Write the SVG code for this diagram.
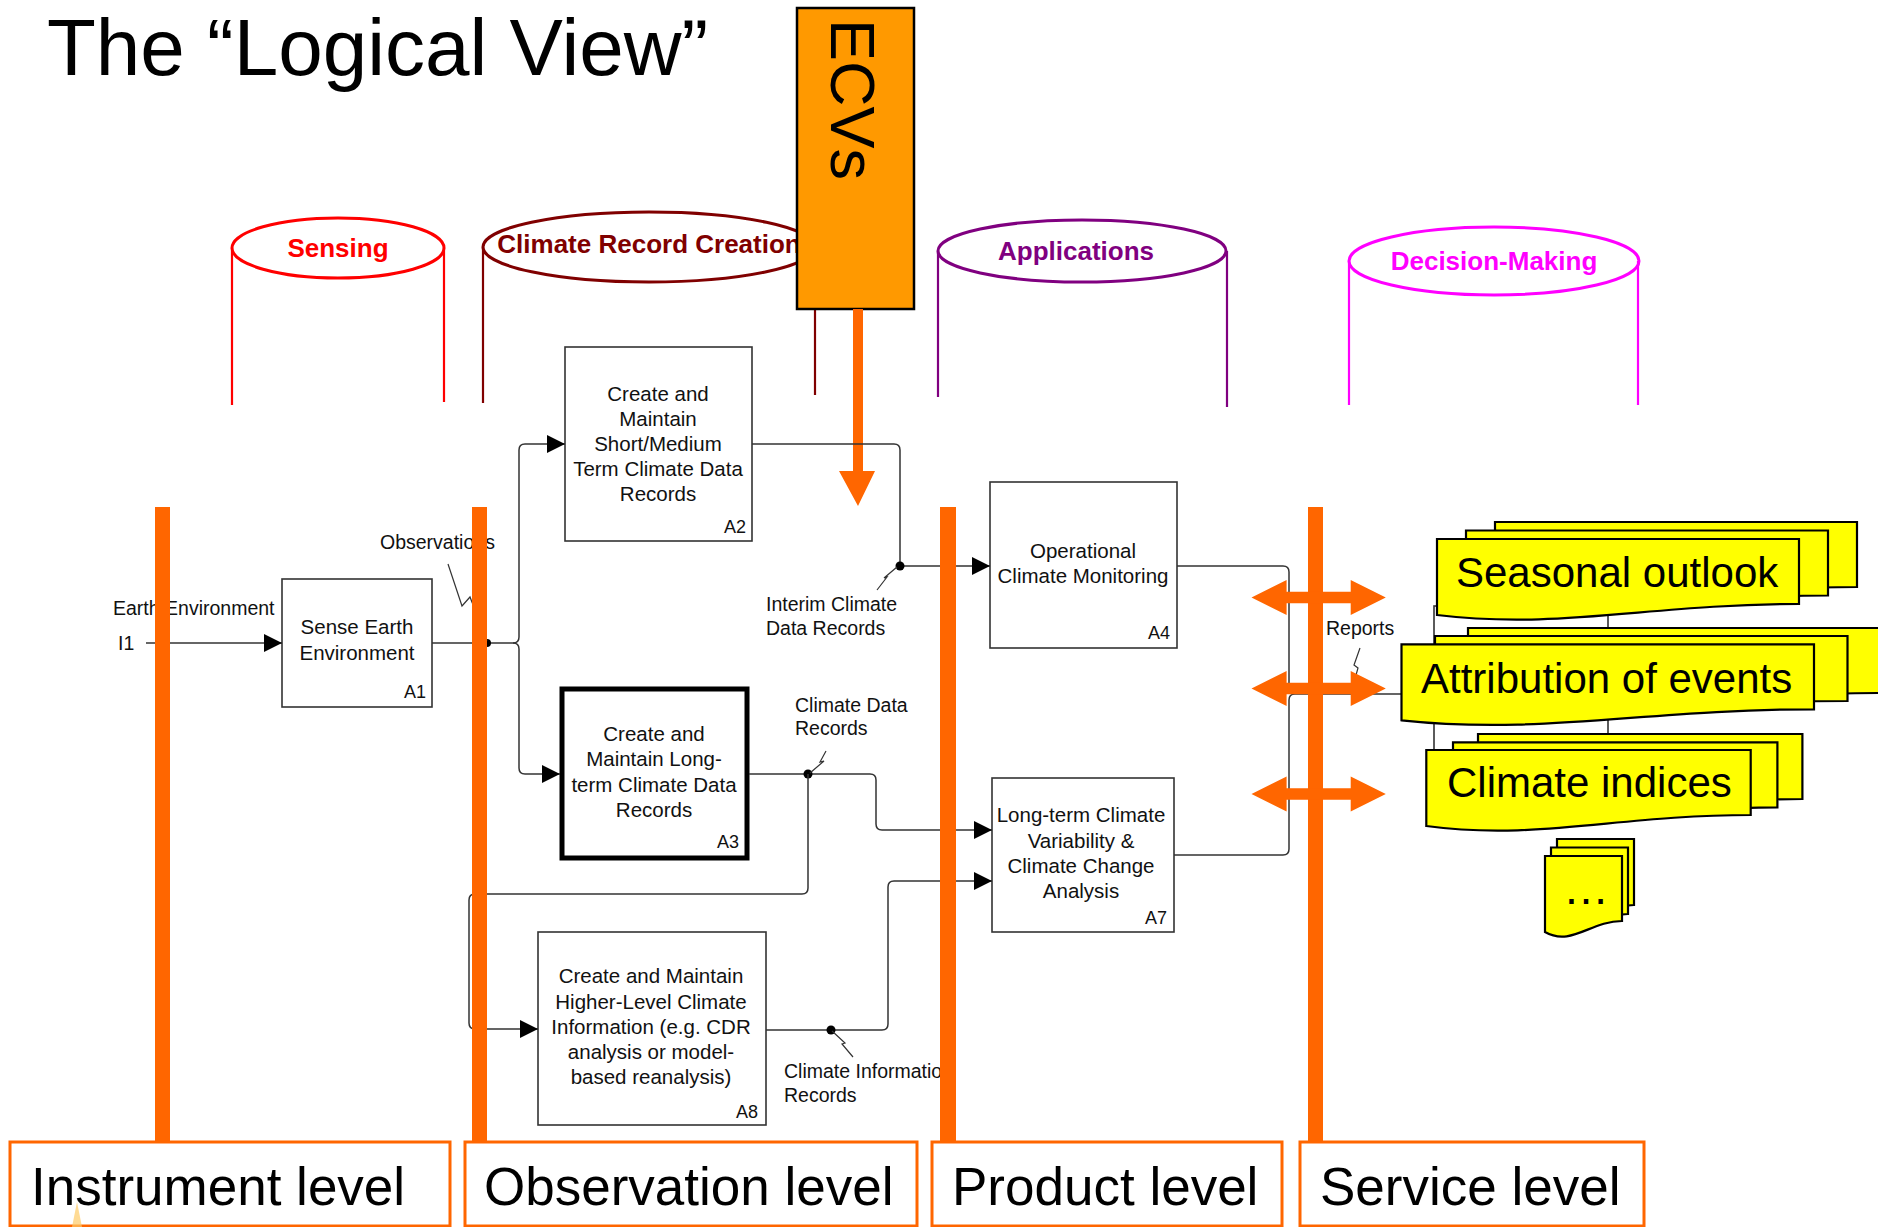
<svg xmlns="http://www.w3.org/2000/svg" xmlns:xlink="http://www.w3.org/1999/xlink" width="1878" height="1227" viewBox="0 0 1878 1227">
<style>
  text { font-family: "Liberation Sans", Arial, sans-serif; fill: #000; }
  .title { font-size: 80px; }
  .cyl { fill: none; stroke-width: 3; }
  .wall { fill: none; stroke-width: 2.2; }
  .cylt { font-weight: bold; font-size: 26px; text-anchor: middle; }
  .box { fill: #fff; stroke: #333; stroke-width: 1.6; }
  .bt { font-size: 20.5px; text-anchor: middle; fill: #111; }
  .code { font-size: 18px; text-anchor: end; fill: #111; }
  .conn { fill: none; stroke: #333; stroke-width: 1.5; }
  .sq { fill: none; stroke: #333; stroke-width: 1.2; }
  .lbl { font-size: 19.5px; fill: #111; }
  .bar { fill: #FF6600; }
  .lvl { fill: #fff; stroke: #FF6600; stroke-width: 3; }
  .lvlt { font-size: 53px; }
  .doc { fill: #FFFF00; stroke: #000; stroke-width: 2.2; }
  .doct { font-size: 42px; }
</style>
<defs>
  <marker id="ah" viewBox="0 0 18 18" markerWidth="18" markerHeight="18" refX="18" refY="9" orient="auto" markerUnits="userSpaceOnUse">
    <path d="M0,0 L18,9 L0,18 Z" fill="#000"/>
  </marker>
  <polygon id="dbl" points="1251.5,0 1286.6,-17.5 1286.6,-5.8 1350.7,-5.8 1350.7,-17.5 1385.8,0 1350.7,17.5 1350.7,5.8 1286.6,5.8 1286.6,17.5" fill="#FF6600"/>
</defs>
<rect width="1878" height="1227" fill="#fff"/>

<g id="title">
  <text class="title" x="47" y="75">The “Logical View”</text>
</g>

<g id="cyl-sensing">
  <ellipse class="cyl" cx="338" cy="248" rx="106" ry="30" stroke="#FF0000"/>
  <path class="wall" d="M232,248 V405 M444,248 V402" stroke="#FF0000"/>
  <text class="cylt" x="338" y="257" style="fill:#FF0000">Sensing</text>
</g>
<g id="cyl-climate-record-creation">
  <ellipse class="cyl" cx="649" cy="247" rx="166" ry="35" stroke="#800000"/>
  <path class="wall" d="M483,247 V403 M815,247 V395" stroke="#800000"/>
  <text class="cylt" x="649" y="253" style="fill:#800000">Climate Record Creation</text>
</g>
<g id="cyl-applications">
  <ellipse class="cyl" cx="1082" cy="251" rx="144" ry="31" stroke="#800080"/>
  <path class="wall" d="M938,251 V397 M1227,251 V407" stroke="#800080"/>
  <text class="cylt" x="1076" y="260" style="fill:#800080">Applications</text>
</g>
<g id="cyl-decision-making">
  <ellipse class="cyl" cx="1494" cy="261" rx="145" ry="34" stroke="#FF00FF"/>
  <path class="wall" d="M1349,261 V405 M1638,261 V405" stroke="#FF00FF"/>
  <text class="cylt" x="1494" y="270" style="fill:#FF00FF">Decision-Making</text>
</g>

<g id="ecvs">
  <rect x="797" y="8" width="117" height="301" fill="#FF9900" stroke="#000" stroke-width="2.5"/>
  <text x="0" y="0" font-size="63" transform="translate(831,19) rotate(90)">ECVs</text>
  <path d="M853,309 H863 V471 H875 L858,506 L839,471 H853 Z" fill="#FF6600"/>
</g>

<g id="A1">
  <rect class="box" x="282" y="579" width="150" height="128"/>
  <text class="bt" x="357" y="634">Sense Earth</text>
  <text class="bt" x="357" y="660">Environment</text>
  <text class="code" x="426" y="698">A1</text>
</g>
<g id="A2">
  <rect class="box" x="565" y="347" width="187" height="194"/>
  <text class="bt" x="658" y="401">Create and</text>
  <text class="bt" x="658" y="426">Maintain</text>
  <text class="bt" x="658" y="451">Short/Medium</text>
  <text class="bt" x="658" y="476">Term Climate Data</text>
  <text class="bt" x="658" y="501">Records</text>
  <text class="code" x="746" y="533">A2</text>
</g>
<g id="A3">
  <rect x="562" y="689" width="185" height="169" fill="#fff" stroke="#000" stroke-width="5"/>
  <text class="bt" x="654" y="741">Create and</text>
  <text class="bt" x="654" y="766">Maintain Long-</text>
  <text class="bt" x="654" y="792">term Climate Data</text>
  <text class="bt" x="654" y="817">Records</text>
  <text class="code" x="739" y="848">A3</text>
</g>
<g id="A4">
  <rect class="box" x="990" y="482" width="187" height="166"/>
  <text class="bt" x="1083" y="558">Operational</text>
  <text class="bt" x="1083" y="583">Climate Monitoring</text>
  <text class="code" x="1170" y="639">A4</text>
</g>
<g id="A7">
  <rect class="box" x="992" y="778" width="182" height="154"/>
  <text class="bt" x="1081" y="822">Long-term Climate</text>
  <text class="bt" x="1081" y="848">Variability &amp;</text>
  <text class="bt" x="1081" y="873">Climate Change</text>
  <text class="bt" x="1081" y="898">Analysis</text>
  <text class="code" x="1167" y="924">A7</text>
</g>
<g id="A8">
  <rect class="box" x="538" y="932" width="228" height="193"/>
  <text class="bt" x="651" y="983">Create and Maintain</text>
  <text class="bt" x="651" y="1009">Higher-Level Climate</text>
  <text class="bt" x="651" y="1034">Information (e.g. CDR</text>
  <text class="bt" x="651" y="1059">analysis or model-</text>
  <text class="bt" x="651" y="1084">based reanalysis)</text>
  <text class="code" x="758" y="1118">A8</text>
</g>
<g id="hidden-box">
  <rect class="box" x="1434" y="606" width="174" height="190"/>
</g>

<g id="connectors">
  <path class="conn" d="M146,643 H282" marker-end="url(#ah)"/>
  <path class="conn" d="M432,643 H513 Q519,643 519,637 V450 Q519,444 525,444 H565" marker-end="url(#ah)"/>
  <path class="conn" d="M513,643 Q519,643 519,649 V768 Q519,774 525,774 H560" marker-end="url(#ah)"/>
  <circle cx="487" cy="643" r="4" fill="#000"/>
  <path class="conn" d="M752,444 H894 Q900,444 900,450 V566 H990" marker-end="url(#ah)"/>
  <circle cx="900" cy="566" r="4.5" fill="#000"/>
  <path class="conn" d="M749,774 H870 Q876,774 876,780 V824 Q876,830 882,830 H992" marker-end="url(#ah)"/>
  <circle cx="808" cy="774" r="4.5" fill="#000"/>
  <path class="conn" d="M808,774 V888 Q808,894 802,894 H475 Q469,894 469,900 V1023 Q469,1029 475,1029 H538" marker-end="url(#ah)"/>
  <path class="conn" d="M766,1030 H882 Q888,1030 888,1024 V887 Q888,881 894,881 H992" marker-end="url(#ah)"/>
  <circle cx="831" cy="1030" r="4.5" fill="#000"/>
  <path class="conn" d="M1177,566 H1283 Q1289,566 1289,572 V694"/>
  <path class="conn" d="M1174,855 H1283 Q1289,855 1289,849 V700 Q1289,694 1295,694 H1434"/>
  <path class="sq" d="M448,564 L462,606 L470,597 L487,641"/>
  <path class="sq" d="M877,590 L887,577 L884,578 L897,567"/>
  <path class="sq" d="M826,751 L820,762 L824,761 L810,773"/>
  <path class="sq" d="M832,1031 L845,1043 L842,1044 L853,1057"/>
  <path class="sq" d="M1360,648 L1354,665 L1358,668 L1351,693"/>
  <text class="lbl" x="113" y="615">Earth Environment</text>
  <text class="lbl" x="118" y="650">I1</text>
  <text class="lbl" x="380" y="549">Observations</text>
  <text class="lbl" x="766" y="611">Interim Climate</text>
  <text class="lbl" x="766" y="635">Data Records</text>
  <text class="lbl" x="795" y="712">Climate Data</text>
  <text class="lbl" x="795" y="735">Records</text>
  <text class="lbl" x="784" y="1078">Climate Information</text>
  <text class="lbl" x="784" y="1102">Records</text>
  <text class="lbl" x="1326" y="635">Reports</text>
</g>

<g id="level-bars">
  <rect class="bar" x="155" y="507" width="15" height="636"/>
  <rect class="bar" x="472" y="507" width="15" height="636"/>
  <rect class="bar" x="940" y="507" width="16" height="636"/>
  <rect class="bar" x="1308" y="507" width="15" height="636"/>
</g>

<g id="service-arrows">
  <use href="#dbl" xlink:href="#dbl" transform="translate(0,597.5)"/>
  <use href="#dbl" xlink:href="#dbl" transform="translate(0,688.5)"/>
  <use href="#dbl" xlink:href="#dbl" transform="translate(0,794)"/>
</g>

<g id="seasonal-outlook">
  <path class="doc" d="M1495,522 H1857 V587 C1708.6,587 1618.1,613 1495,598 Z"/>
  <path class="doc" d="M1466,530.5 H1828 V595.5 C1679.6,595.5 1589.1,621.5 1466,606.5 Z"/>
  <path class="doc" d="M1437,539 H1799 V604 C1650.6,604 1560.1,630 1437,615 Z"/>
  <text class="doct" x="1456" y="587">Seasonal outlook</text>
</g>
<g id="attribution-of-events">
  <path class="doc" d="M1468,628 H1880.5 V693 C1711.4,693 1608.3,719 1468,704 Z"/>
  <path class="doc" d="M1435,636 H1847.5 V701 C1678.4,701 1575.3,727 1435,712 Z"/>
  <path class="doc" d="M1401.5,644.3 H1814 V709.3 C1644.9,709.3 1541.8,735.3 1401.5,720.3 Z"/>
  <text class="doct" x="1421" y="693">Attribution of events</text>
</g>
<g id="climate-indices">
  <path class="doc" d="M1478,734 H1802.4 V799 C1669.4,799 1588.3,825 1478,810 Z"/>
  <path class="doc" d="M1453,742.3 H1777.4 V807.3 C1644.4,807.3 1563.3,833.3 1453,818.3 Z"/>
  <path class="doc" d="M1426.3,750 H1750.7 V815 C1617.7,815 1536.6,841 1426.3,826 Z"/>
  <text class="doct" x="1447" y="797">Climate indices</text>
</g>
<g id="more">
  <path class="doc" d="M1557,839 H1634 V905 C1602.4,905 1583.2,931 1557,916 Z"/>
  <path class="doc" d="M1551,847.5 H1628 V914 C1596.4,914 1577.2,940 1551,925 Z"/>
  <path class="doc" d="M1545,856 H1622 V921 C1590.4,921 1571.2,947 1545,932 Z"/>
  <text x="1586" y="904" font-size="46" text-anchor="middle">…</text>
</g>

<g id="levels">
  <g id="instrument-level">
    <rect class="lvl" x="10" y="1142" width="440" height="84"/>
    <path d="M72,1227 L77,1202 L82,1227 Z" fill="#FFCC66" opacity="0.7"/>
    <text class="lvlt" x="31" y="1205">Instrument level</text>
  </g>
  <g id="observation-level">
    <rect class="lvl" x="465" y="1142" width="452" height="84"/>
    <text class="lvlt" x="484" y="1205">Observation level</text>
  </g>
  <g id="product-level">
    <rect class="lvl" x="932" y="1142" width="350" height="84"/>
    <text class="lvlt" x="952" y="1205">Product level</text>
  </g>
  <g id="service-level">
    <rect class="lvl" x="1300" y="1142" width="344" height="84"/>
    <text class="lvlt" x="1320" y="1205">Service level</text>
  </g>
</g>
</svg>
